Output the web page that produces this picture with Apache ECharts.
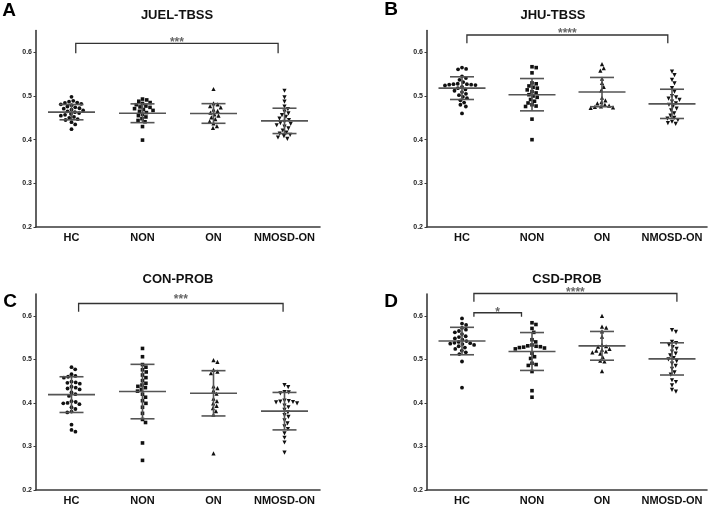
<!DOCTYPE html>
<html><head><meta charset="utf-8">
<script src="https://cdn.jsdelivr.net/npm/echarts@6/dist/echarts.min.js"></script>
<style>html,body{margin:0;padding:0;background:#fff}#c{width:711px;height:505px}</style>
</head><body><div id="c"></div>
<script>
// ---------- data ----------
const categories = ['HC', 'NON', 'ON', 'NMOSD-ON'];
const yTicks = [0.2, 0.3, 0.4, 0.5, 0.6];
const panelTitles = ['JUEL-TBSS', 'JHU-TBSS', 'CON-PROB', 'CSD-PROB'];
const panelLetters = ['A', 'B', 'C', 'D'];

// Panel A  JUEL-TBSS
const juelHC = [0.498, 0.489, 0.487, 0.485, 0.484, 0.482, 0.481, 0.479, 0.476, 0.474, 0.472, 0.471, 0.469, 0.467, 0.465, 0.463, 0.461, 0.459, 0.457, 0.455, 0.452, 0.450, 0.447, 0.445, 0.440, 0.435, 0.424];
const juelNON = [0.493, 0.491, 0.488, 0.485, 0.483, 0.480, 0.477, 0.475, 0.474, 0.471, 0.469, 0.467, 0.465, 0.462, 0.458, 0.455, 0.452, 0.448, 0.444, 0.441, 0.430, 0.399];
const juelON = [0.516, 0.483, 0.481, 0.477, 0.474, 0.469, 0.466, 0.462, 0.458, 0.455, 0.451, 0.447, 0.442, 0.437, 0.431, 0.427];
const juelNMOSD = [0.512, 0.497, 0.487, 0.476, 0.470, 0.464, 0.460, 0.456, 0.452, 0.448, 0.445, 0.441, 0.438, 0.436, 0.433, 0.430, 0.426, 0.421, 0.416, 0.414, 0.411, 0.408, 0.405, 0.402];
const juelMean = [0.463, 0.4605, 0.460, 0.443];
const juelSD = [0.0175, 0.0215, 0.0225, 0.029];

// Panel B  JHU-TBSS
const jhuHC = [0.565, 0.562, 0.561, 0.545, 0.541, 0.537, 0.532, 0.528, 0.527, 0.527, 0.526, 0.526, 0.525, 0.524, 0.521, 0.518, 0.515, 0.512, 0.509, 0.505, 0.502, 0.498, 0.495, 0.490, 0.485, 0.480, 0.476, 0.460];
const jhuNON = [0.567, 0.565, 0.553, 0.530, 0.528, 0.523, 0.520, 0.518, 0.514, 0.510, 0.507, 0.503, 0.500, 0.497, 0.492, 0.488, 0.484, 0.480, 0.477, 0.476, 0.447, 0.400];
const jhuON = [0.573, 0.564, 0.558, 0.540, 0.530, 0.521, 0.513, 0.496, 0.490, 0.486, 0.483, 0.480, 0.478, 0.476, 0.475, 0.474, 0.473];
const jhuNMOSD = [0.556, 0.548, 0.537, 0.529, 0.518, 0.510, 0.500, 0.497, 0.494, 0.491, 0.487, 0.483, 0.480, 0.476, 0.471, 0.467, 0.460, 0.455, 0.450, 0.448, 0.445, 0.441, 0.438, 0.436];
const jhuMean = [0.518, 0.503, 0.509, 0.482];
const jhuSD = [0.026, 0.037, 0.0335, 0.0335];

// Panel C  CON-PROB
const conHC = [0.482, 0.477, 0.466, 0.462, 0.460, 0.458, 0.449, 0.447, 0.446, 0.444, 0.437, 0.435, 0.433, 0.431, 0.424, 0.420, 0.416, 0.404, 0.402, 0.400, 0.399, 0.397, 0.390, 0.386, 0.380, 0.378, 0.350, 0.338, 0.334];
const conNON = [0.525, 0.506, 0.488, 0.482, 0.476, 0.471, 0.464, 0.458, 0.451, 0.445, 0.441, 0.438, 0.435, 0.431, 0.427, 0.420, 0.413, 0.405, 0.399, 0.390, 0.376, 0.362, 0.355, 0.308, 0.268];
const conON = [0.498, 0.494, 0.476, 0.472, 0.468, 0.438, 0.434, 0.428, 0.421, 0.410, 0.404, 0.399, 0.393, 0.388, 0.381, 0.373, 0.284];
const conNMOSD = [0.441, 0.436, 0.425, 0.424, 0.422, 0.405, 0.404, 0.403, 0.402, 0.401, 0.399, 0.394, 0.390, 0.384, 0.378, 0.372, 0.368, 0.360, 0.353, 0.346, 0.340, 0.330, 0.320, 0.309, 0.286];
const conMean = [0.419, 0.426, 0.422, 0.381];
const conSD = [0.041, 0.0625, 0.052, 0.043];

// Panel D  CSD-PROB
const csdHC = [0.594, 0.582, 0.579, 0.572, 0.568, 0.565, 0.562, 0.558, 0.553, 0.551, 0.548, 0.545, 0.542, 0.540, 0.538, 0.537, 0.536, 0.535, 0.533, 0.530, 0.527, 0.524, 0.520, 0.516, 0.512, 0.495, 0.435];
const csdNON = [0.584, 0.580, 0.571, 0.562, 0.545, 0.540, 0.533, 0.531, 0.530, 0.529, 0.528, 0.527, 0.526, 0.524, 0.514, 0.506, 0.502, 0.491, 0.488, 0.486, 0.472, 0.428, 0.413];
const csdON = [0.600, 0.575, 0.573, 0.564, 0.552, 0.533, 0.530, 0.529, 0.524, 0.522, 0.520, 0.518, 0.516, 0.513, 0.505, 0.497, 0.495, 0.473];
const csdNMOSD = [0.567, 0.563, 0.540, 0.537, 0.533, 0.528, 0.524, 0.518, 0.513, 0.509, 0.503, 0.500, 0.496, 0.490, 0.485, 0.478, 0.470, 0.465, 0.452, 0.448, 0.440, 0.430, 0.426];
const csdMean = [0.542, 0.518, 0.531, 0.501];
const csdSD = [0.0315, 0.0435, 0.033, 0.037];

// significance brackets: [fromGroupPos, toGroupPos, barValue, endValue, starValue]
const juelBrackets = [[0.06, 2.91, 0.6206, 0.598, 0.629]];
const jhuBrackets = [[0.07, 2.94, 0.6397, 0.6206, 0.650]];
const conBrackets = [[0.10, 2.98, 0.6282, 0.6092, 0.644]];
const csdBrackets = [[0.17, 3.07, 0.6511, 0.632, 0.660], [0.17, 0.85, 0.6069, 0.5977, 0.6145]];
const juelStars = ['***'];
const jhuStars = ['****'];
const conStars = ['***'];
const csdStars = ['****', '*'];

// ---------- layout ----------
const panels = [
  { groups: [juelHC, juelNON, juelON, juelNMOSD], mean: juelMean, sd: juelSD, br: juelBrackets, stars: juelStars,
    grid: { left: 36, top: 30.5, width: 284, height: 196.5 }, title: [177, 15], letter: [9, 11] },
  { groups: [jhuHC, jhuNON, jhuON, jhuNMOSD], mean: jhuMean, sd: jhuSD, br: jhuBrackets, stars: jhuStars,
    grid: { left: 427, top: 30.5, width: 280, height: 196.5 }, title: [553, 15], letter: [391, 10] },
  { groups: [conHC, conNON, conON, conNMOSD], mean: conMean, sd: conSD, br: conBrackets, stars: conStars,
    grid: { left: 36, top: 294, width: 284, height: 196 }, title: [178, 279], letter: [10, 302] },
  { groups: [csdHC, csdNON, csdON, csdNMOSD], mean: csdMean, sd: csdSD, br: csdBrackets, stars: csdStars,
    grid: { left: 427, top: 294, width: 280, height: 196 }, title: [567, 279], letter: [391, 302] }
];

const symbols = ['circle', 'rect', 'triangle', 'triangle'];
const symRot = [0, 0, 0, 180];
const symSize = [3.8, 3.6, 4.2, 4.2];

function swarm(vals, pxX, pxY, d) {
  const order = vals.map((v, i) => i).sort((a, b) => vals[b] - vals[a]);
  const placed = [];
  const offs = new Array(vals.length);
  for (const i of order) {
    const y = vals[i] * pxY;
    const near = placed.filter(p => Math.abs(p.y - y) < d);
    const cands = [0];
    near.forEach(p => {
      const dx = Math.sqrt(d * d - (p.y - y) * (p.y - y));
      cands.push(p.x + dx, p.x - dx);
    });
    cands.sort((a, b) => Math.abs(a) - Math.abs(b));
    let x = 0;
    for (const c of cands) {
      if (near.every(p => (p.x - c) * (p.x - c) + (p.y - y) * (p.y - y) >= d * d - 1e-6)) { x = c; break; }
    }
    placed.push({ x, y });
    offs[i] = x / pxX;
  }
  return offs;
}

const font = '"Liberation Sans", Arial, Helvetica, sans-serif';
const grids = [], xAxes = [], yAxes = [], series = [], graphics = [];

panels.forEach((P, k) => {
  grids.push(Object.assign({ outerBoundsMode: 'none', containLabel: false }, P.grid));
  xAxes.push({
    type: 'category', gridIndex: k, data: categories, boundaryGap: true,
    axisLine: { show: true, onZero: false, lineStyle: { color: '#3a3a3a', width: 1.6 } },
    axisTick: { show: false },
    axisLabel: { interval: 0, margin: 5, fontSize: 11, fontWeight: 'bold', color: '#111', fontFamily: font },
    splitLine: { show: false }
  });
  xAxes.push({ type: 'value', gridIndex: k, min: -0.5, max: 3.5, show: false });
  yAxes.push({
    type: 'value', gridIndex: k, min: 0.2, max: 0.65, interval: 0.1, position: 'left',
    axisLine: { show: true, onZero: false, lineStyle: { color: '#3a3a3a', width: 1.6 } },
    axisTick: { show: true, length: 2.5, customValues: yTicks, lineStyle: { color: '#3a3a3a', width: 1 } },
    axisLabel: { customValues: yTicks, margin: 4, fontSize: 7, fontWeight: 'bold', color: '#222', fontFamily: font,
      formatter: v => v.toFixed(1) },
    splitLine: { show: false }
  });
  const pxX = P.grid.width / 4;
  const pxY = P.grid.height / 0.45;
  P.groups.forEach((vals, g) => {
    const offs = swarm(vals, pxX, pxY, 4.3);
    series.push({
      type: 'scatter', xAxisIndex: 2 * k + 1, yAxisIndex: k,
      data: vals.map((v, i) => [g + offs[i], v]),
      symbol: symbols[g], symbolRotate: symRot[g], symbolSize: symSize[g],
      itemStyle: { color: '#111', opacity: 1 }, silent: true, z: 2
    });
  });
  series.push({
    type: 'custom', xAxisIndex: 2 * k + 1, yAxisIndex: k, clip: false, silent: true, z: 3,
    encode: { x: 0, y: 1 },
    data: P.mean.map((m, g) => [g, m, P.sd[g]]),
    renderItem: (params, api) => {
      const i = api.value(0), m = api.value(1), s = api.value(2);
      const c = api.coord([i, m]), t = api.coord([i, m + s]), b = api.coord([i, m - s]);
      const st = { stroke: '#555', lineWidth: 1.6 };
      return { type: 'group', children: [
        { type: 'line', shape: { x1: c[0] - 23.5, y1: c[1], x2: c[0] + 23.5, y2: c[1] }, style: st },
        { type: 'line', shape: { x1: t[0] - 12, y1: t[1], x2: t[0] + 12, y2: t[1] }, style: st },
        { type: 'line', shape: { x1: b[0] - 12, y1: b[1], x2: b[0] + 12, y2: b[1] }, style: st },
        { type: 'line', shape: { x1: t[0], y1: t[1], x2: b[0], y2: b[1] }, style: st }
      ] };
    }
  });
  series.push({
    type: 'custom', xAxisIndex: 2 * k + 1, yAxisIndex: k, clip: false, silent: true, z: 3,
    encode: { x: [0, 1], y: [2, 3, 4] },
    data: P.br,
    renderItem: (params, api) => {
      const x1 = api.value(0), x2 = api.value(1), yb = api.value(2), ye = api.value(3), ys = api.value(4);
      const a = api.coord([x1, ye]), b = api.coord([x1, yb]), c = api.coord([x2, yb]), d = api.coord([x2, ye]);
      const s = api.coord([(x1 + x2) / 2, ys]);
      return { type: 'group', children: [
        { type: 'polyline', shape: { points: [a, b, c, d] }, style: { stroke: '#333', lineWidth: 1.3, fill: null } },
        { type: 'text', x: s[0], y: s[1] + 3, style: { text: P.stars[params.dataIndex], fill: '#666',
          font: 'bold 12px ' + font, textAlign: 'center', textVerticalAlign: 'middle' } }
      ] };
    }
  });
  graphics.push({ type: 'text', x: P.title[0], y: P.title[1],
    style: { text: panelTitles[k], font: 'bold 13px ' + font, fill: '#111', textAlign: 'center', textVerticalAlign: 'middle' } });
  graphics.push({ type: 'text', x: P.letter[0], y: P.letter[1],
    style: { text: panelLetters[k], font: 'bold 19px ' + font, fill: '#000', textAlign: 'center', textVerticalAlign: 'middle' } });
});

const chart = echarts.init(document.getElementById('c'), null, { renderer: 'canvas' });
chart.setOption({
  animation: false,
  backgroundColor: '#fff',
  grid: grids, xAxis: xAxes, yAxis: yAxes, series: series, graphic: graphics
});
</script>
</body></html>
